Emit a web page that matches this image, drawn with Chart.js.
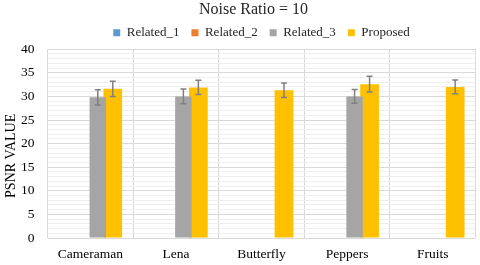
<!DOCTYPE html>
<html>
<head>
<meta charset="utf-8">
<script src="https://cdn.jsdelivr.net/npm/chart.js@4.4.1/dist/chart.umd.min.js"></script>
<style>
	html, body { margin: 0; padding: 0; background: #fff; }
	#canvas-holder { width: 480px; height: 265px; }
</style>
</head>
<body>
<div id="canvas-holder"><canvas id="graphNoise"></canvas></div>
<script>
// values
var images = ['Cameraman', 'Lena', 'Butterfly', 'Peppers', 'Fruits'];
var related1 = [null, null, null, null, null];
var related2 = [null, null, null, null, null];
var related3 = [29.8, 30.0, null, 30.0, null];
var proposed = [31.6, 31.9, 31.3, 32.6, 32.0];
var related3Err = [1.6, 1.55, null, 1.45, null];
var proposedErr = [1.6, 1.5, 1.55, 1.65, 1.45];
var yMax = 40;
var yLabelStep = 5;

var errorBars = {
	id: 'errorBars',
	afterDatasetsDraw: function(chart) {
		var ctx = chart.ctx;
		var yScale = chart.scales.y;

		chart.data.datasets.forEach(function(ds, d) {
			if (!ds.errors) return;
			var meta = chart.getDatasetMeta(d);

			meta.data.forEach(function(bar, i) {
				var v = ds.data[i], e = ds.errors[i];
				if (v == null || e == null) return;
				var top = yScale.getPixelForValue(v + e);
				var bot = yScale.getPixelForValue(v - e);

				ctx.save();
				ctx.strokeStyle = '#808080';
				ctx.lineWidth = 1.5;
				ctx.beginPath();
				ctx.moveTo(bar.x, top); ctx.lineTo(bar.x, bot);
				ctx.moveTo(bar.x - 3, top); ctx.lineTo(bar.x + 3, top);
				ctx.moveTo(bar.x - 3, bot); ctx.lineTo(bar.x + 3, bot);
				ctx.stroke();
				ctx.restore();
			});
		});
	}
};

var serif = "'Liberation Serif', 'Times New Roman', 'DejaVu Serif', serif";
var ctx = document.getElementById('graphNoise').getContext('2d');

var noiseChart = new Chart(ctx, {
	type: 'bar',
	data: {
		labels: images,
		datasets: [
			{ label: 'Related_1', data: related1, backgroundColor: '#5B9BD5' },
			{ label: 'Related_2', data: related2, backgroundColor: '#ED7D31' },
			{ label: 'Related_3', data: related3, backgroundColor: '#A5A5A5', errors: related3Err, barPercentage: 1.1 },
			{ label: 'Proposed', data: proposed, backgroundColor: '#FFC000', errors: proposedErr, barPercentage: 1.25 }
		]
	},
	options: {
		responsive: true,
		maintainAspectRatio: false,
		animation: false,
		datasets: { bar: { categoryPercentage: 0.70, barPercentage: 1, borderWidth: 0 } },
		layout: { padding: { left: 0, right: 4.5, top: 0, bottom: 0 } },
		plugins: {
			title: {
				display: true,
				fullSize: false,
				// trailing spaces nudge it a bit left, as in the reference
				text: 'Noise Ratio = 10\u00a0\u00a0\u00a0\u00a0',
				color: '#262626',
				font: { family: serif, size: 16, weight: 'normal' },
				padding: { top: 0, bottom: -5 }
			},
			legend: {
				position: 'top',
				fullSize: false,
				labels: {
					color: '#262626',
					font: { family: serif, size: 13 },
					boxWidth: 7,
					boxHeight: 7,
					padding: 12
				}
			},
			tooltip: { enabled: false }
		},
		scales: {
			x: {
				afterFit: function(scale) { scale.height = 27; },
				grid: { offset: true, color: '#d9d9d9', drawTicks: false },
				border: { display: false },
				ticks: { color: '#000', font: { family: serif, size: 13.5 }, padding: 8, maxRotation: 0 }
			},
			y: {
				min: 0,
				max: yMax,
				afterFit: function(scale) { scale.width = 47.5; },
				grid: {
					drawTicks: false,
					color: function(c) { return c.tick.value % yLabelStep == 0 ? '#d9d9d9' : '#efefef'; }
				},
				border: { display: false },
				ticks: {
					stepSize: 1,
					autoSkip: false,
					padding: 13,
					color: '#000',
					font: { family: serif, size: 13.5 },
					callback: function(v) { return v % yLabelStep == 0 ? v : ''; }
				},
				title: {
					display: true,
					// trailing spaces push the title down the axis like the reference
					text: 'PSNR VALUE\u00a0\u00a0\u00a0\u00a0\u00a0\u00a0\u00a0',
					color: '#000',
					font: { family: serif, size: 14 },
					padding: { top: 3, bottom: 0 }
				}
			}
		}
	},
	plugins: [errorBars]
});
</script>
</body>
</html>
